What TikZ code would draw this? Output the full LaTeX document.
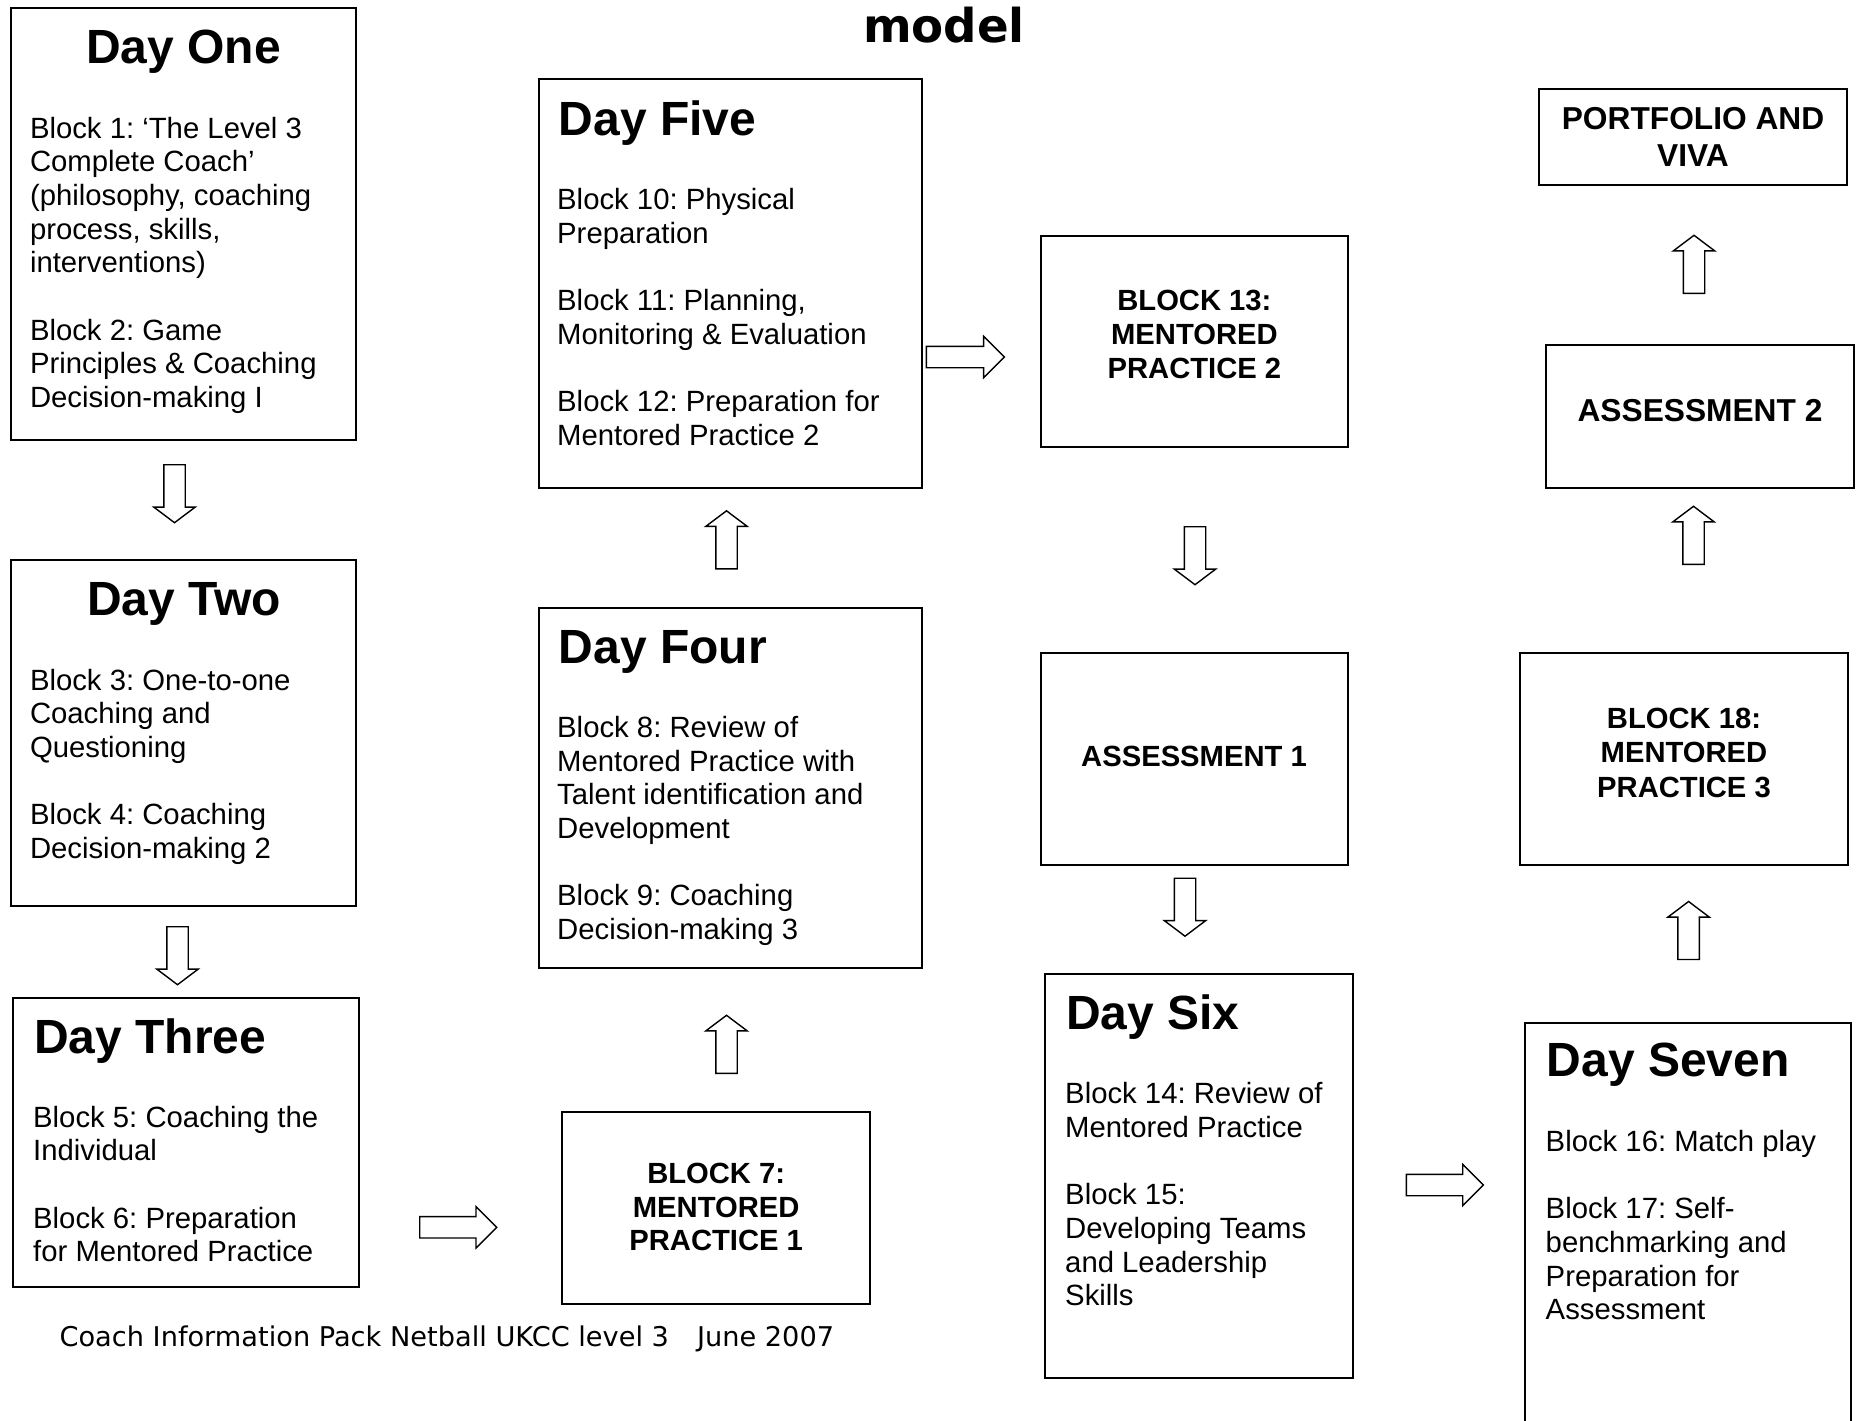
\documentclass[tikz,border=0pt]{standalone}
\usepackage{fontspec}
\setmainfont{Liberation Sans}
\newfontfamily\dejavu{DejaVu Sans}
\usetikzlibrary{shapes.arrows}
\newcommand{\mybox}[5]{\node[daybox, minimum width={(#4)-(#2)}, minimum height={(#5)-(#3)}] (#1) at ({((#2)+(#4))/2},{((#3)+(#5))/2}) {};}
\newcommand{\lines}[2]{\parbox[t]{#1}{\raggedright #2}}
\newcommand{\clines}[2]{\parbox[t]{#1}{\centering #2}}
\begin{document}
\frenchspacing
\begin{tikzpicture}[x=1pt,y=-1pt,
  daybox/.style={draw, line width=2pt, inner sep=0pt, rectangle},
  daytitle/.style={inner sep=0pt, font=\bfseries\fontsize{48}{54}\selectfont},
  bodytext/.style={inner sep=0pt, anchor=base west, font=\fontsize{29.3}{33.7}\selectfont},
  capstext/.style={inner sep=0pt, anchor=base, font=\bfseries\fontsize{29.2}{34}\selectfont},
  bigcaps/.style={inner sep=0pt, anchor=base, font=\bfseries\fontsize{31.7}{37.4}\selectfont},
  blockarrow/.style={single arrow, draw, fill=white, line width=1.4pt, inner xsep=0pt, inner ysep=10pt,
     single arrow head extend=10pt, single arrow head indent=0pt, anchor=tail},
  varrow/.style={blockarrow, single arrow tip angle=106, minimum height=58pt},
  harrow/.style={blockarrow, single arrow tip angle=90, minimum height=77pt}
]
\useasboundingbox (0,0) rectangle (1856,1421);
\fill[white] (0,0) rectangle (1856,1421);
\clip (0,0) rectangle (1856,1421);

% title fragment
\node[inner sep=0pt, anchor=base, font=\dejavu\bfseries\fontsize{46.7}{50}\selectfont] (title) at (944,42.5) {model};

% boxes
\mybox{d1}{10.7}{8.3}{356.3}{440.3}
\mybox{d2}{10.7}{560}{356.3}{905.5}
\mybox{d3}{13}{998}{358.7}{1286.7}
\mybox{b7}{562.3}{1111.5}{870}{1304.4}
\mybox{d4}{538.6}{608.4}{922}{968.3}
\mybox{d5}{538.6}{79.3}{922}{487.7}
\mybox{b13}{1040.5}{235.6}{1348.2}{447.4}
\mybox{as1}{1040.5}{653.4}{1348.2}{865.3}
\mybox{d6}{1045.2}{974.2}{1353}{1377.8}
\mybox{d7}{1524.6}{1022.7}{1851}{1450}
\mybox{b18}{1520}{653.4}{1847.7}{865.3}
\mybox{as2}{1546}{344.5}{1853.7}{487.7}
\mybox{pv}{1538.8}{88.8}{1846.6}{184.7}

% day titles
\node[daytitle, anchor=base] (d1h) at (183.5,64) {Day One};
\node[daytitle, anchor=base] (d2h) at (184,615) {Day Two};
\node[daytitle, anchor=base west] (d3h) at (34,1053) {Day Three};
\node[daytitle, anchor=base west] (d4h) at (558.5,663.5) {Day Four};
\node[daytitle, anchor=base west] (d5h) at (558.5,135) {Day Five};
\node[daytitle, anchor=base west] (d6h) at (1066,1029.3) {Day Six};
\node[daytitle, anchor=base west] (d7h) at (1546.5,1076.5) {Day Seven};

% body texts
\node[bodytext] (d1b) at (29.8,138) {\lines{320pt}{Block 1: ‘The Level 3\\Complete Coach’\\(philosophy, coaching\\process, skills,\\interventions)\\[33.7pt]Block 2: Game\\Principles \& Coaching\\Decision-making I}};
\node[bodytext] (d2b) at (29.8,690) {\lines{320pt}{Block 3: One-to-one\\Coaching and\\Questioning\\[33.7pt]Block 4: Coaching\\Decision-making 2}};
\node[bodytext] (d3b) at (33,1127) {\lines{320pt}{Block 5: Coaching the\\Individual\\[33.7pt]Block 6: Preparation\\for Mentored Practice}};
\node[bodytext] (d4b) at (557,737.4) {\lines{360pt}{Block 8: Review of\\Mentored Practice with\\Talent identification and\\Development\\[33.7pt]Block 9: Coaching\\Decision-making 3}};
\node[bodytext] (d5b) at (557,209.3) {\lines{360pt}{Block 10: Physical\\Preparation\\[33.7pt]Block 11: Planning,\\Monitoring \& Evaluation\\[33.7pt]Block 12: Preparation for\\Mentored Practice 2}};
\node[bodytext] (d6b) at (1065,1103.7) {\lines{290pt}{Block 14: Review of\\Mentored Practice\\[33.7pt]Block 15:\\Developing Teams\\and Leadership\\Skills}};
\node[bodytext] (d7b) at (1545.5,1151.3) {\lines{300pt}{Block 16: Match play\\[33.7pt]Block 17: Self-\\benchmarking and\\Preparation for\\Assessment}};

% centred capital labels
\node[capstext] (b13t) at (1194.4,310) {\clines{300pt}{BLOCK 13:\\MENTORED\\PRACTICE 2}};
\node[capstext] (as1t) at (1194,766.7) {ASSESSMENT 1};
\node[capstext, font=\bfseries\fontsize{29.2}{34.5}\selectfont] (b18t) at (1684,728.3) {\clines{300pt}{BLOCK 18:\\MENTORED\\PRACTICE 3}};
\node[capstext, font=\bfseries\fontsize{29.2}{33.7}\selectfont] (b7t) at (716.2,1183.3) {\clines{300pt}{BLOCK 7:\\MENTORED\\PRACTICE 1}};
\node[bigcaps] (as2t) at (1700,421.7) {ASSESSMENT 2};
\node[bigcaps] (pvt) at (1693,129.3) {\clines{300pt}{PORTFOLIO AND\\VIVA}};

% footer
\node[inner sep=0pt, anchor=base west, font=\dejavu\fontsize{27.2}{30}\selectfont] (foot) at (59.4,1346) {Coach Information Pack Netball UKCC level 3\hspace{28pt}June 2007};

% block arrows (placed by their tails)
\node[varrow, rotate=-90] (a1) at (174.5,464) {};
\node[varrow, rotate=-90] (a2) at (177.5,926) {};
\node[harrow] (a3) at (419,1227.3) {};
\node[varrow, rotate=90] (a4) at (726.5,1074) {};
\node[varrow, rotate=90] (a5) at (726.5,569.5) {};
\node[harrow, minimum height=78pt] (a6) at (925.6,357) {};
\node[varrow, rotate=-90] (a7) at (1195,526) {};
\node[varrow, rotate=-90] (a8) at (1185,877.5) {};
\node[harrow] (a9) at (1405.7,1185) {};
\node[varrow, rotate=90] (a10) at (1688.6,960.2) {};
\node[varrow, rotate=90] (a11) at (1693.5,565) {};
\node[varrow, rotate=90] (a12) at (1694,294) {};
\end{tikzpicture}
\end{document}
